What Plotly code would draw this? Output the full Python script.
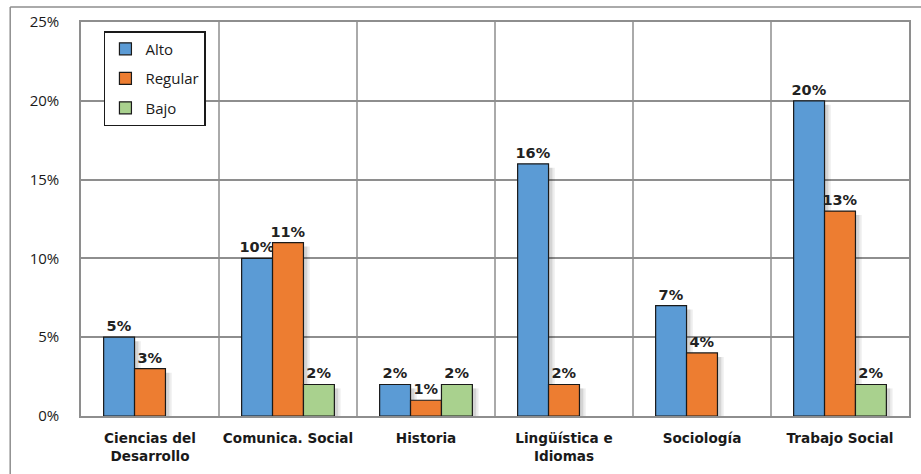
import plotly.graph_objects as go

# Percent of respondents per programme and level
categories = ["Ciencias del<br>Desarrollo", "Comunica. Social", "Historia",
              "Lingüística e<br>Idiomas", "Sociología", "Trabajo Social"]
alto = [5, 10, 2, 16, 7, 20]
regular = [3, 11, 1, 2, 4, 13]
bajo = [None, 2, 2, None, None, 2]

series_names = ["Alto", "Regular", "Bajo"]
series_values = [alto, regular, bajo]
series_colors = ["#5B9BD5", "#ED7D31", "#A9D18E"]

y_ticks = [0, 5, 10, 15, 20, 25]

bar_w = 0.224
offsets = [-1.5 * bar_w, -0.5 * bar_w, 0.5 * bar_w]
x_idx = list(range(len(categories)))

fig = go.Figure()

# soft drop shadows behind each bar (two layers for a faded edge)
for spread, alpha in [(0.045, 0.07), (0.028, 0.10)]:
    for vals, off in zip(series_values, offsets):
        fig.add_trace(go.Bar(
            x=x_idx,
            y=[None if v is None else max(v - 0.25, 0) for v in vals],
            offset=off + spread, width=bar_w,
            marker=dict(color=f"rgba(0,0,0,{alpha})", line=dict(width=0)),
            showlegend=False, hoverinfo="skip",
        ))

for name, vals, color, off in zip(series_names, series_values, series_colors, offsets):
    fig.add_trace(go.Bar(
        x=x_idx, y=vals, name=name, legendgroup=name,
        offset=off, width=bar_w,
        marker=dict(color=color, line=dict(color="#1a1a1a", width=1.2)),
        text=[None if v is None else f"{v}%" for v in vals],
        textposition="outside", cliponaxis=False, constraintext="none",
        textfont=dict(family="DejaVu Sans", size=14.5, color="#222222"),
        texttemplate="<b>%{text}</b>",
    ))

# vertical separators between programmes
shapes = []
for i in range(1, len(categories)):
    shapes.append(dict(type="line", xref="x", yref="paper",
                       x0=i - 0.5, x1=i - 0.5, y0=0, y1=1,
                       line=dict(color="#8E8E8E", width=1.5), layer="below"))
# outer frame (left and top edges)
shapes.append(dict(type="line", xref="paper", yref="paper",
                   x0=-0.0855, x1=-0.0855, y0=-0.2, y1=1.038,
                   line=dict(color="#8E8E8E", width=1.5)))
shapes.append(dict(type="line", xref="paper", yref="paper",
                   x0=-0.0855, x1=1.05, y0=1.038, y1=1.038,
                   line=dict(color="#8E8E8E", width=1.5)))

fig.update_layout(
    width=921, height=474,
    margin=dict(l=81, r=10, t=22, b=57),
    paper_bgcolor="white", plot_bgcolor="white",
    barmode="overlay",
    shapes=shapes,
    xaxis=dict(
        tickmode="array", tickvals=x_idx,
        ticktext=[f"<b>{c}</b>" for c in categories],
        range=[-0.5, len(categories) - 0.5],
        showgrid=False, showline=True, mirror=True,
        linecolor="#8E8E8E", linewidth=1.5,
        ticks="", ticklabelstandoff=9,
        tickfont=dict(family="DejaVu Sans", size=13.6, color="#1a1a1a"),
    ),
    yaxis=dict(
        range=[0, 25], tickvals=y_ticks,
        ticktext=[f"{t}%" for t in y_ticks],
        showgrid=True, gridcolor="#8E8E8E", gridwidth=1.5,
        showline=True, mirror=True, linecolor="#8E8E8E", linewidth=1.5,
        zeroline=False, ticks="", ticklabelstandoff=17,
        tickfont=dict(family="Open Sans", size=15, color="#1a1a1a"),
    ),
    legend=dict(
        x=0.0277, y=0.977, xanchor="left", yanchor="top",
        bgcolor="white", bordercolor="#1a1a1a", borderwidth=1.5,
        font=dict(family="Open Sans", size=15, color="#1a1a1a"),
        tracegroupgap=7, itemwidth=30,
    ),
)

fig.write_html("out.html")
